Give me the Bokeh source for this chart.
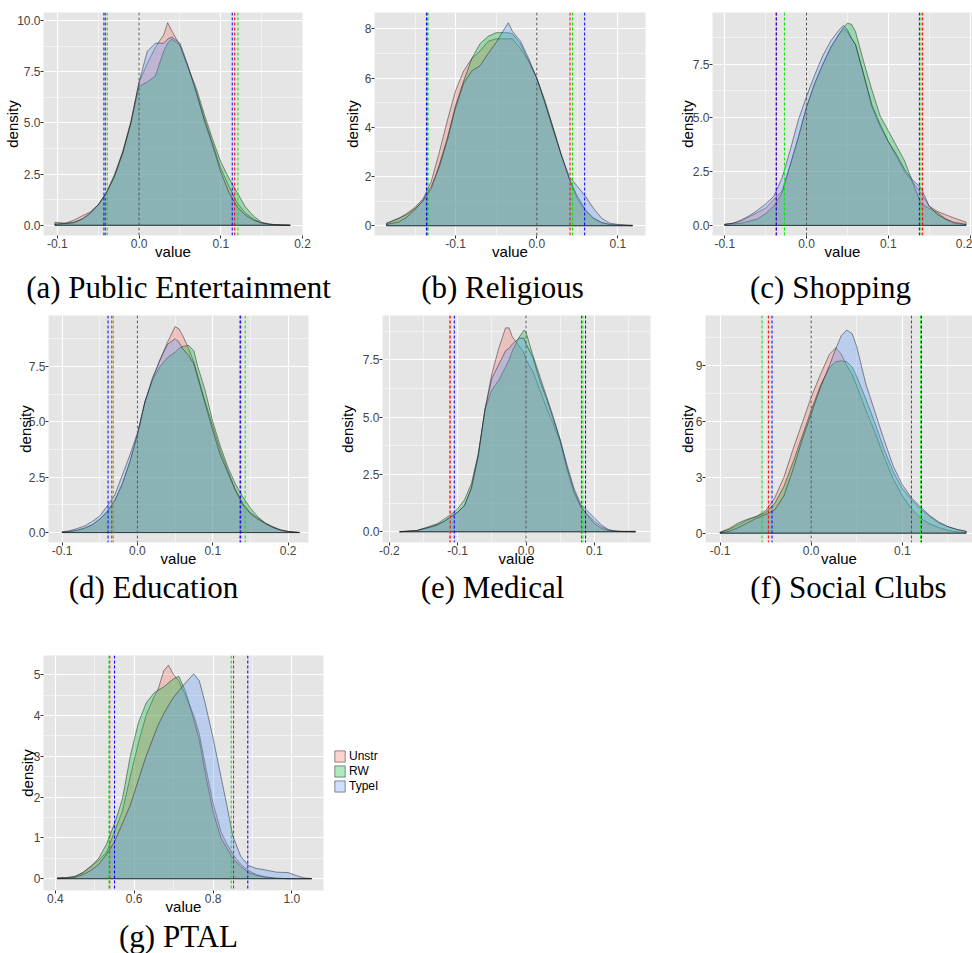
from bokeh.plotting import figure
from bokeh.models import (Span, Label, FixedTicker, PrintfTickFormatter, Legend,
                          LegendItem, Range1d, Spacer)
from bokeh.layouts import row, column
from bokeh.embed import file_html
from bokeh.resources import INLINE

SERIES = ["Unstr", "RW", "TypeI"]
FILL = ["#F8766D", "#00BA38", "#619CFF"]
QLINE = ["#FF0000", "#00E600", "#0000FF"]

# ---------------- (a) Public Entertainment ----------------
A_X = [-0.103, -0.09, -0.08, -0.07, -0.06, -0.05, -0.04, -0.03, -0.02, -0.01, 0.0, 0.01, 0.02, 0.03,
       0.035, 0.04, 0.05, 0.06, 0.07, 0.08, 0.09, 0.10, 0.11, 0.12, 0.13, 0.14, 0.15, 0.16, 0.17, 0.185]
A_UNSTR = [0.05, 0.1, 0.25, 0.45, 0.65, 1.0, 1.55, 2.4, 3.6, 5.1, 7.0, 7.9, 8.7, 9.3, 9.9, 9.5, 8.8,
           7.7, 6.5, 5.2, 4.0, 2.8, 1.9, 1.1, 0.6, 0.3, 0.12, 0.05, 0.02, 0.0]
A_RW = [0.15, 0.1, 0.15, 0.3, 0.55, 1.0, 1.6, 2.5, 3.6, 5.0, 6.8, 7.0, 7.3, 8.5, 8.9, 9.1, 8.8, 7.7,
        6.7, 5.4, 4.2, 3.1, 2.3, 1.6, 0.9, 0.45, 0.15, 0.05, 0.02, 0.0]
A_TYPEI = [0.05, 0.08, 0.12, 0.3, 0.6, 1.0, 1.6, 2.4, 3.5, 5.0, 7.0, 8.5, 8.9, 8.9, 9.1, 9.2, 8.9, 7.8,
           6.5, 5.1, 3.9, 2.6, 1.6, 0.9, 0.5, 0.25, 0.1, 0.05, 0.02, 0.0]
A_Q = [[-0.041, 0.117], [-0.039, 0.121], [-0.043, 0.114]]
A_XTICKS = [-0.1, 0.0, 0.1, 0.2]
A_YTICKS = [0.0, 2.5, 5.0, 7.5, 10.0]

# ---------------- (b) Religious ----------------
B_X = [-0.185, -0.17, -0.16, -0.15, -0.14, -0.13, -0.12, -0.11, -0.10, -0.09, -0.08, -0.07, -0.06,
       -0.05, -0.04, -0.035, -0.03, -0.02, -0.01, 0.0, 0.01, 0.02, 0.03, 0.04, 0.05, 0.06, 0.07, 0.08,
       0.09, 0.10, 0.118]
B_UNSTR = [0.1, 0.3, 0.5, 0.75, 1.1, 1.8, 3.0, 4.3, 5.5, 6.3, 6.8, 7.1, 7.5, 7.6, 7.6, 7.6, 7.6, 7.2,
           6.7, 6.0, 5.0, 4.0, 2.9, 1.9, 1.1, 0.6, 0.3, 0.13, 0.05, 0.02, 0.0]
B_RW = [0.1, 0.3, 0.45, 0.7, 1.0, 1.5, 2.5, 3.6, 4.9, 5.9, 6.8, 7.4, 7.7, 7.85, 7.85, 7.85, 7.8, 7.4,
        6.7, 6.0, 5.1, 4.0, 2.9, 1.9, 1.2, 0.65, 0.3, 0.12, 0.05, 0.02, 0.0]
B_TYPEI = [0.05, 0.15, 0.35, 0.65, 1.05, 1.6, 2.4, 3.5, 4.8, 5.8, 6.3, 6.5, 7.0, 7.45, 8.0, 8.25, 7.9,
           7.5, 6.8, 6.0, 5.0, 3.9, 2.9, 2.0, 1.6, 1.2, 0.7, 0.3, 0.1, 0.05, 0.02]
B_Q = [[-0.135, 0.041], [-0.134, 0.044], [-0.136, 0.059]]
B_XTICKS = [-0.1, 0.0, 0.1]
B_YTICKS = [0, 2, 4, 6, 8]

# ---------------- (c) Shopping ----------------
C_X = [-0.1, -0.09, -0.08, -0.07, -0.06, -0.05, -0.04, -0.03, -0.02, -0.01, 0.0, 0.01, 0.02, 0.03,
       0.04, 0.045, 0.05, 0.055, 0.06, 0.07, 0.08, 0.09, 0.10, 0.11, 0.12, 0.13, 0.14, 0.15, 0.16,
       0.17, 0.18, 0.195]
C_UNSTR = [0.05, 0.1, 0.2, 0.4, 0.6, 0.8, 1.2, 1.6, 2.8, 4.1, 5.5, 6.6, 7.5, 8.3, 8.9, 9.15, 9.0, 8.7,
           8.4, 7.0, 5.5, 4.6, 3.9, 3.2, 2.5, 2.0, 1.5, 0.9, 0.65, 0.5, 0.35, 0.15]
C_RW = [0.05, 0.07, 0.1, 0.2, 0.3, 0.55, 0.9, 1.5, 2.8, 4.1, 5.5, 6.6, 7.5, 8.3, 8.9, 9.2, 9.4, 9.35,
        9.0, 7.6, 6.3, 5.1, 4.4, 3.7, 3.0, 2.0, 1.0, 0.8, 0.6, 0.3, 0.1, 0.03]
C_TYPEI = [0.05, 0.1, 0.25, 0.45, 0.7, 1.0, 1.35, 2.2, 3.5, 4.9, 6.0, 7.0, 7.9, 8.6, 9.1, 9.3, 9.1,
           8.7, 8.4, 7.0, 5.6, 4.7, 3.9, 3.3, 2.6, 2.1, 1.75, 0.9, 0.5, 0.3, 0.15, 0.05]
C_Q = [[-0.037, 0.142], [-0.027, 0.140], [-0.037, 0.138]]
C_XTICKS = [-0.1, 0.0, 0.1, 0.2]
C_YTICKS = [0.0, 2.5, 5.0, 7.5]

# ---------------- (d) Education ----------------
D_X = [-0.1, -0.09, -0.08, -0.07, -0.06, -0.05, -0.04, -0.03, -0.02, -0.01, 0.0, 0.01, 0.02, 0.03,
       0.04, 0.05, 0.055, 0.06, 0.068, 0.075, 0.08, 0.09, 0.10, 0.11, 0.12, 0.13, 0.14, 0.15, 0.16,
       0.17, 0.18, 0.19, 0.20, 0.215]
D_UNSTR = [0.02, 0.05, 0.1, 0.2, 0.35, 0.6, 0.95, 1.45, 2.2, 3.2, 4.4, 5.9, 6.9, 7.8, 8.6, 9.3, 9.2,
           8.9, 8.3, 7.7, 7.1, 5.9, 4.8, 3.7, 2.8, 1.95, 1.3, 0.9, 0.65, 0.42, 0.25, 0.12, 0.05, 0.0]
D_RW = [0.02, 0.05, 0.1, 0.2, 0.35, 0.6, 0.95, 1.45, 2.2, 3.2, 4.4, 5.9, 6.9, 7.5, 7.9, 8.15, 8.3, 8.4,
        8.45, 8.2, 7.5, 6.4, 5.0, 3.9, 2.95, 2.2, 1.6, 1.1, 0.7, 0.42, 0.25, 0.12, 0.05, 0.0]
D_TYPEI = [0.03, 0.08, 0.18, 0.3, 0.5, 0.75, 1.2, 1.7, 2.6, 3.5, 4.5, 5.9, 7.0, 7.8, 8.5, 8.75, 8.6,
           8.3, 8.0, 7.6, 7.0, 5.8, 4.6, 3.5, 2.7, 1.9, 1.25, 0.85, 0.6, 0.4, 0.22, 0.1, 0.04, 0.0]
D_Q = [[-0.034, 0.136], [-0.032, 0.143], [-0.039, 0.137]]
D_XTICKS = [-0.1, 0.0, 0.1, 0.2]
D_YTICKS = [0.0, 2.5, 5.0, 7.5]

# ---------------- (e) Medical ----------------
E_X = [-0.185, -0.16, -0.14, -0.13, -0.12, -0.11, -0.10, -0.09, -0.08, -0.07, -0.06, -0.05, -0.04,
       -0.03, -0.025, -0.02, -0.01, -0.003, 0.0, 0.01, 0.02, 0.03, 0.04, 0.05, 0.06, 0.07, 0.08, 0.09,
       0.10, 0.11, 0.12, 0.13, 0.14, 0.16]
E_UNSTR = [0.0, 0.05, 0.2, 0.3, 0.45, 0.65, 0.85, 1.15, 1.9, 3.3, 5.35, 6.9, 8.0, 8.9, 8.9, 8.5, 8.1,
           7.8, 7.5, 7.0, 6.2, 5.4, 4.7, 3.9, 2.7, 1.7, 1.1, 0.75, 0.45, 0.22, 0.08, 0.02, 0.01, 0.0]
E_RW = [0.0, 0.05, 0.25, 0.35, 0.55, 0.75, 1.0, 1.4, 2.1, 3.4, 5.35, 6.2, 6.6, 7.2, 7.5, 7.9, 8.5, 8.8,
        8.7, 7.7, 6.8, 5.9, 5.0, 4.0, 2.8, 1.8, 1.1, 0.7, 0.35, 0.15, 0.05, 0.03, 0.02, 0.02]
E_TYPEI = [0.0, 0.05, 0.2, 0.3, 0.45, 0.65, 0.85, 1.15, 1.9, 3.3, 5.35, 6.7, 7.3, 7.9, 8.0, 8.2, 8.45,
           8.45, 8.2, 7.6, 6.6, 5.8, 4.9, 4.0, 2.9, 1.9, 1.2, 0.9, 0.6, 0.3, 0.1, 0.03, 0.01, 0.0]
E_Q = [[-0.111, 0.081], [-0.112, 0.083], [-0.105, 0.087]]
E_XTICKS = [-0.2, -0.1, 0.0, 0.1]
E_YTICKS = [0.0, 2.5, 5.0, 7.5]

# ---------------- (f) Social Clubs ----------------
F_X = [-0.1, -0.09, -0.08, -0.07, -0.06, -0.05, -0.04, -0.03, -0.02, -0.01, 0.0, 0.01, 0.02, 0.027,
       0.033, 0.039, 0.045, 0.05, 0.06, 0.07, 0.08, 0.09, 0.10, 0.11, 0.12, 0.13, 0.14, 0.15, 0.16, 0.17]
F_UNSTR = [0.05, 0.2, 0.45, 0.7, 0.9, 1.2, 1.9, 3.0, 4.5, 5.9, 7.3, 8.5, 9.6, 9.95, 9.6, 9.0, 8.5, 7.9,
           6.6, 5.4, 4.1, 2.9, 2.0, 1.3, 0.8, 0.5, 0.3, 0.15, 0.07, 0.02]
F_RW = [0.05, 0.25, 0.55, 0.75, 0.9, 1.1, 1.6, 2.5, 3.8, 5.2, 6.6, 7.9, 8.9, 9.2, 9.25, 9.2, 8.9, 8.4,
        7.2, 5.9, 4.5, 3.3, 2.4, 1.8, 1.3, 0.9, 0.55, 0.35, 0.2, 0.1]
F_TYPEI = [0.02, 0.1, 0.3, 0.55, 0.8, 1.0, 1.25, 2.0, 3.4, 5.0, 6.4, 7.8, 9.0, 9.9, 10.6, 10.9, 10.7,
           10.0, 8.0, 6.5, 5.0, 3.6, 2.6, 1.9, 1.4, 0.95, 0.6, 0.35, 0.2, 0.1]
F_Q = [[-0.047, 0.110], [-0.054, 0.120], [-0.043, 0.121]]
F_XTICKS = [-0.1, 0.0, 0.1]
F_YTICKS = [0, 3, 6, 9]

# ---------------- (g) PTAL ----------------
G_X = [0.405, 0.43, 0.45, 0.47, 0.49, 0.51, 0.53, 0.55, 0.57, 0.59, 0.61, 0.63, 0.65, 0.66, 0.675,
       0.687, 0.70, 0.713, 0.73, 0.751, 0.765, 0.78, 0.80, 0.82, 0.835, 0.85, 0.87, 0.89, 0.91, 0.93,
       0.96, 0.99, 1.01, 1.03, 1.05]
G_UNSTR = [0.02, 0.02, 0.05, 0.15, 0.3, 0.45, 0.65, 1.15, 1.65, 2.5, 3.3, 4.0, 4.45, 4.62, 5.1, 5.23,
           5.0, 4.85, 4.5, 4.0, 3.55, 2.8, 1.85, 1.15, 0.85, 0.6, 0.35, 0.2, 0.1, 0.05, 0.01, 0.0, 0.0,
           0.0, 0.0]
G_RW = [0.02, 0.03, 0.06, 0.15, 0.3, 0.5, 0.85, 1.35, 1.95, 3.0, 3.8, 4.3, 4.55, 4.62, 4.7, 4.8, 4.9,
        4.96, 4.6, 3.9, 3.4, 2.6, 1.65, 1.0, 0.75, 0.5, 0.3, 0.15, 0.08, 0.04, 0.01, 0.0, 0.0, 0.0, 0.0]
G_TYPEI = [0.0, 0.01, 0.03, 0.1, 0.2, 0.35, 0.6, 0.9, 1.35, 1.8, 2.4, 3.0, 3.5, 3.75, 4.05, 4.25,
           4.45, 4.6, 4.8, 5.02, 4.85, 4.3, 3.45, 2.5, 1.8, 1.05, 0.55, 0.32, 0.25, 0.22, 0.16, 0.15,
           0.08, 0.02, 0.0]
G_Q = [[0.538, 0.852], [0.536, 0.846], [0.550, 0.888]]
G_XTICKS = [0.4, 0.6, 0.8, 1.0]
G_YTICKS = [0, 1, 2, 3, 4, 5]

CAPTIONS = ["(a) Public Entertainment", "(b) Religious", "(c) Shopping", "(d) Education",
            "(e) Medical", "(f) Social Clubs", "(g) PTAL"]

PAGE_W = 972
FILL_ALPHA = 0.32


def minor_of(ticks, lo, hi):
    step = ticks[1] - ticks[0]
    out = []
    t = ticks[0] - step / 2
    while t < hi + 1e-9:
        if t > lo:
            out.append(round(t, 6))
        t += step
    return out


def style_axis(ax, ticks, minor, fmt, label, lab_standoff):
    ax.ticker = FixedTicker(ticks=ticks, minor_ticks=minor)
    ax.formatter = PrintfTickFormatter(format=fmt)
    ax.axis_line_color = None
    ax.major_tick_line_color = "#333333"
    ax.major_tick_in = 0
    ax.major_tick_out = 3
    ax.minor_tick_line_color = None
    ax.minor_tick_out = 0
    ax.minor_tick_in = 0
    ax.major_label_standoff = 0
    ax.major_label_text_font = "Liberation Sans"
    ax.major_label_text_font_size = "12px"
    ax.major_label_text_color = "#444444"
    ax.axis_label = label
    ax.axis_label_text_font = "Liberation Sans"
    ax.axis_label_text_font_size = "15px"
    ax.axis_label_text_font_style = "normal"
    ax.axis_label_text_color = "black"
    ax.axis_label_standoff = lab_standoff


def blank(width, height, rng=(0, 1), margin=None):
    kw = {} if margin is None else {"margin": margin}
    p = figure(width=width, height=height, x_range=Range1d(*rng), y_range=Range1d(*rng),
               x_axis_type=None, y_axis_type=None, output_backend="svg",
               toolbar_location=None, title=None, min_border=0, **kw)
    p.outline_line_color = None
    p.background_fill_alpha = 0
    p.border_fill_alpha = 0
    return p


def caption_strip(height, overlap, items):
    # a transparent strip pulled up by `overlap` px over the empty space under the axes above
    # items: (caption, centre_x_px, label_y_px)
    p = blank(PAGE_W, height, margin=(-overlap, 0, 0, 0))
    for text, cx, by in items:
        p.add_layout(Label(x=cx, y=by, x_units="screen", y_units="screen", text=text,
                           text_align="center", text_baseline="alphabetic",
                           text_font="Liberation Serif", text_font_size="31px",
                           text_color="black"))
    return p


def panel(xs, series, quant, xr, yr, xticks, yticks, xfmt, yfmt, geo, zero_line=True):
    bl, fw, br, bt, fh, bb, ylab_so = geo
    p = figure(width=bl + fw + br, height=bt + fh + bb,
               x_range=Range1d(*xr), y_range=Range1d(*yr),
               output_backend="svg", toolbar_location=None, title=None,
               min_border_left=bl, min_border_right=br,
               min_border_top=bt, min_border_bottom=bb)
    p.background_fill_color = "#E5E5E5"
    p.border_fill_color = "white"
    p.outline_line_color = None
    style_axis(p.xaxis[0], xticks, minor_of(xticks, xr[0], xr[1]), xfmt, "value", -8)
    style_axis(p.yaxis[0], yticks, minor_of(yticks, yr[0], yr[1]), yfmt, "density", ylab_so)
    for g in (p.xgrid[0], p.ygrid[0]):
        g.grid_line_color = "white"
        g.grid_line_width = 1.1
        g.minor_grid_line_color = "white"
        g.minor_grid_line_width = 0.5

    for ys, col in zip(series, FILL):
        px = list(xs) + [xs[-1], xs[0]]
        py = list(ys) + [0.0, 0.0]
        p.patch(px, py, fill_color=col, fill_alpha=FILL_ALPHA,
                line_color="#1a1a1a", line_alpha=0.6, line_width=0.8)

    for qs, col in zip(quant, QLINE):
        for q in qs:
            p.add_layout(Span(location=q, dimension="height", line_color=col,
                              line_dash="3 2", line_width=1.0))
    if zero_line:
        p.add_layout(Span(location=0.0, dimension="height", line_color="#555555",
                          line_dash="3 2", line_width=1.0))
    return p


def legend_box(width, height, xs, series):
    # the (g) densities are drawn here outside the visible range, only to key the legend
    p = blank(width, height, rng=(10, 11))
    rs = []
    for ys, col in zip(series, FILL):
        rs.append(p.patch(list(xs), list(ys), fill_color=col, fill_alpha=FILL_ALPHA,
                          line_color="#1a1a1a", line_alpha=0.6, line_width=0.8))
    lg = Legend(items=[LegendItem(label=s, renderers=[r]) for s, r in zip(SERIES, rs)],
                location="top_left", orientation="vertical",
                margin=0, padding=0, spacing=1,
                glyph_width=13, glyph_height=14, label_height=14,
                label_standoff=3, label_text_font="Liberation Sans",
                label_text_font_size="12px", label_text_color="black",
                border_line_color=None, background_fill_alpha=0)
    p.add_layout(lg)
    return p


# geometry: (border_left, frame_w, border_right, border_top, frame_h, border_bottom, ylabel_standoff)
pa = panel(A_X, [A_UNSTR, A_RW, A_TYPEI], A_Q, (-0.117, 0.2), (-0.5, 10.4),
           A_XTICKS, A_YTICKS, "%.1f", "%.1f", (43, 259, 38, 8, 227, 52, -7))
pb = panel(B_X, [B_UNSTR, B_RW, B_TYPEI], B_Q, (-0.2, 0.134), (-0.4, 8.67),
           B_XTICKS, B_YTICKS, "%.1f", "%d", (33, 272, 30, 10, 230, 47, 1))
pc = panel(C_X, [C_UNSTR, C_RW, C_TYPEI], C_Q, (-0.115, 0.203), (-0.47, 9.9),
           C_XTICKS, C_YTICKS, "%.1f", "%.1f", (35, 262, 0, 12, 230, 45, -6))
pd = panel(D_X, [D_UNSTR, D_RW, D_TYPEI], D_Q, (-0.118, 0.227), (-0.45, 9.8),
           D_XTICKS, D_YTICKS, "%.1f", "%.1f", (48, 260, 27, 3, 227, 48, -8))
pe = panel(E_X, [E_UNSTR, E_RW, E_TYPEI], E_Q, (-0.21, 0.182), (-0.47, 9.44),
           E_XTICKS, E_YTICKS, "%.1f", "%.1f", (40, 275, 25, 3, 230, 45, 4))
pf = panel(F_X, [F_UNSTR, F_RW, F_TYPEI], F_Q, (-0.116, 0.177), (-0.5, 11.68),
           F_XTICKS, F_YTICKS, "%.1f", "%d", (30, 267, 0, 1, 230, 47, -3))
pg = panel(G_X, [G_UNSTR, G_RW, G_TYPEI], G_Q, (0.37, 1.08), (-0.29, 5.47),
           G_XTICKS, G_YTICKS, "%.1f", "%d", (43, 280, 10, 15, 235, 45, -5),
           zero_line=False)
leg = legend_box(70, 60, G_X, [G_UNSTR, G_RW, G_TYPEI])
leg_col = column(Spacer(width=70, height=109), leg)

cap1 = caption_strip(44, 19, [(CAPTIONS[0], 178, 25), (CAPTIONS[1], 502, 25),
                              (CAPTIONS[2], 830, 25)])
cap2 = caption_strip(71, 21, [(CAPTIONS[3], 153, 53), (CAPTIONS[4], 492, 53),
                              (CAPTIONS[5], 848, 53)])
cap3 = caption_strip(35, 17, [(CAPTIONS[6], 178, 17)])

layout = column(row(pa, pb, pc), cap1, row(pd, pe, pf), cap2, row(pg, leg_col), cap3)
open("out.html", "w").write(file_html(layout, INLINE))
